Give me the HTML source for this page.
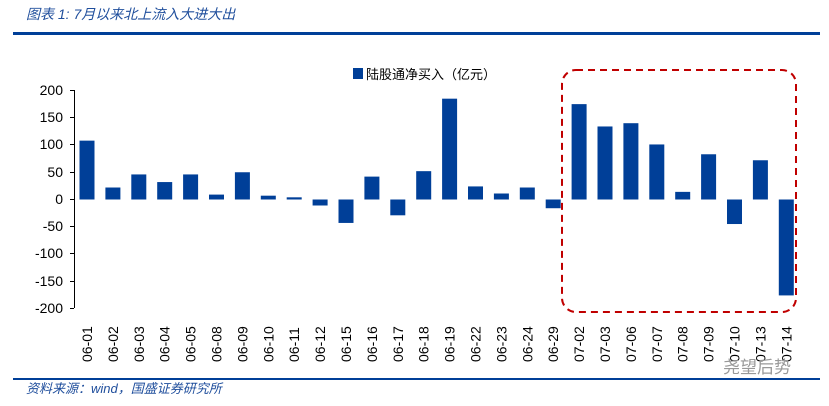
<!DOCTYPE html>
<html><head><meta charset="utf-8"><style>
body{margin:0;background:#fff;}
</style></head><body>
<svg width="829" height="401" xmlns="http://www.w3.org/2000/svg" font-family="'Liberation Sans','Noto Sans CJK SC',sans-serif">
<text x="26" y="19" font-size="14" font-style="italic" fill="#1f4e9c">图表 1:  7月以来北上流入大进大出</text>
<rect x="13" y="32" width="807" height="3" fill="#003f98"/>
<rect x="353" y="68" width="10" height="11" fill="#003f98"/>
<text x="366" y="79" font-size="13" fill="#000">陆股通净买入（亿元）</text>
<g font-size="14" fill="#000" text-anchor="end">
<text x="63" y="95">200</text><text x="63" y="122">150</text><text x="63" y="149">100</text>
<text x="63" y="177">50</text><text x="63" y="204">0</text><text x="63" y="231">-50</text>
<text x="63" y="258">-100</text><text x="63" y="286">-150</text><text x="63" y="313">-200</text>
</g>
<g stroke="#000" stroke-width="1">
<line x1="74.5" y1="90" x2="74.5" y2="308"/>
<line x1="70" y1="90.5" x2="74" y2="90.5"/><line x1="70" y1="117.5" x2="74" y2="117.5"/>
<line x1="70" y1="144.5" x2="74" y2="144.5"/><line x1="70" y1="172.5" x2="74" y2="172.5"/>
<line x1="70" y1="199.5" x2="74" y2="199.5"/><line x1="70" y1="226.5" x2="74" y2="226.5"/>
<line x1="70" y1="253.5" x2="74" y2="253.5"/><line x1="70" y1="281.5" x2="74" y2="281.5"/>
<line x1="70" y1="308.5" x2="74" y2="308.5"/>
</g>
<g id="bars" fill="#003f98"></g>
<g id="labels" font-size="14" fill="#000"></g>
<rect x="562" y="70" width="234" height="242" rx="14" fill="none" stroke="#c00000" stroke-width="2" stroke-dasharray="7,5"/>
<rect x="13" y="378" width="807" height="2" fill="#003f98"/>
<text x="26" y="393" font-size="13" font-style="italic" fill="#1f4e9c">资料来源：wind，国盛证券研究所</text>
<text x="723" y="373" font-size="17" fill="#999">尧望后势</text>
<script>
var d=[["06-01",108],["06-02",22],["06-03",46],["06-04",32],["06-05",46],["06-08",9],["06-09",50],["06-10",7],["06-11",4],["06-12",-11],["06-15",-43],["06-16",42],["06-17",-29],["06-18",52],["06-19",185],["06-22",24],["06-23",11],["06-24",22],["06-29",-16],["07-02",175],["07-03",134],["07-06",140],["07-07",101],["07-08",14],["07-09",83],["07-10",-45],["07-13",72],["07-14",-176]];
var b=document.getElementById("bars"),l=document.getElementById("labels"),ns="http://www.w3.org/2000/svg";
d.forEach(function(e,i){var cx=87+i*25.9,h=e[1]*0.545,y0=199.5;
var r=document.createElementNS(ns,"rect");r.setAttribute("x",cx-7.5);r.setAttribute("width",15);
r.setAttribute("y",h>0?y0-h:y0);r.setAttribute("height",Math.abs(h));b.appendChild(r);
var t=document.createElementNS(ns,"text");t.setAttribute("transform","translate("+(cx+5)+",362) rotate(-90)");t.textContent=e[0];l.appendChild(t);});
</script>
</svg>
</body></html>
